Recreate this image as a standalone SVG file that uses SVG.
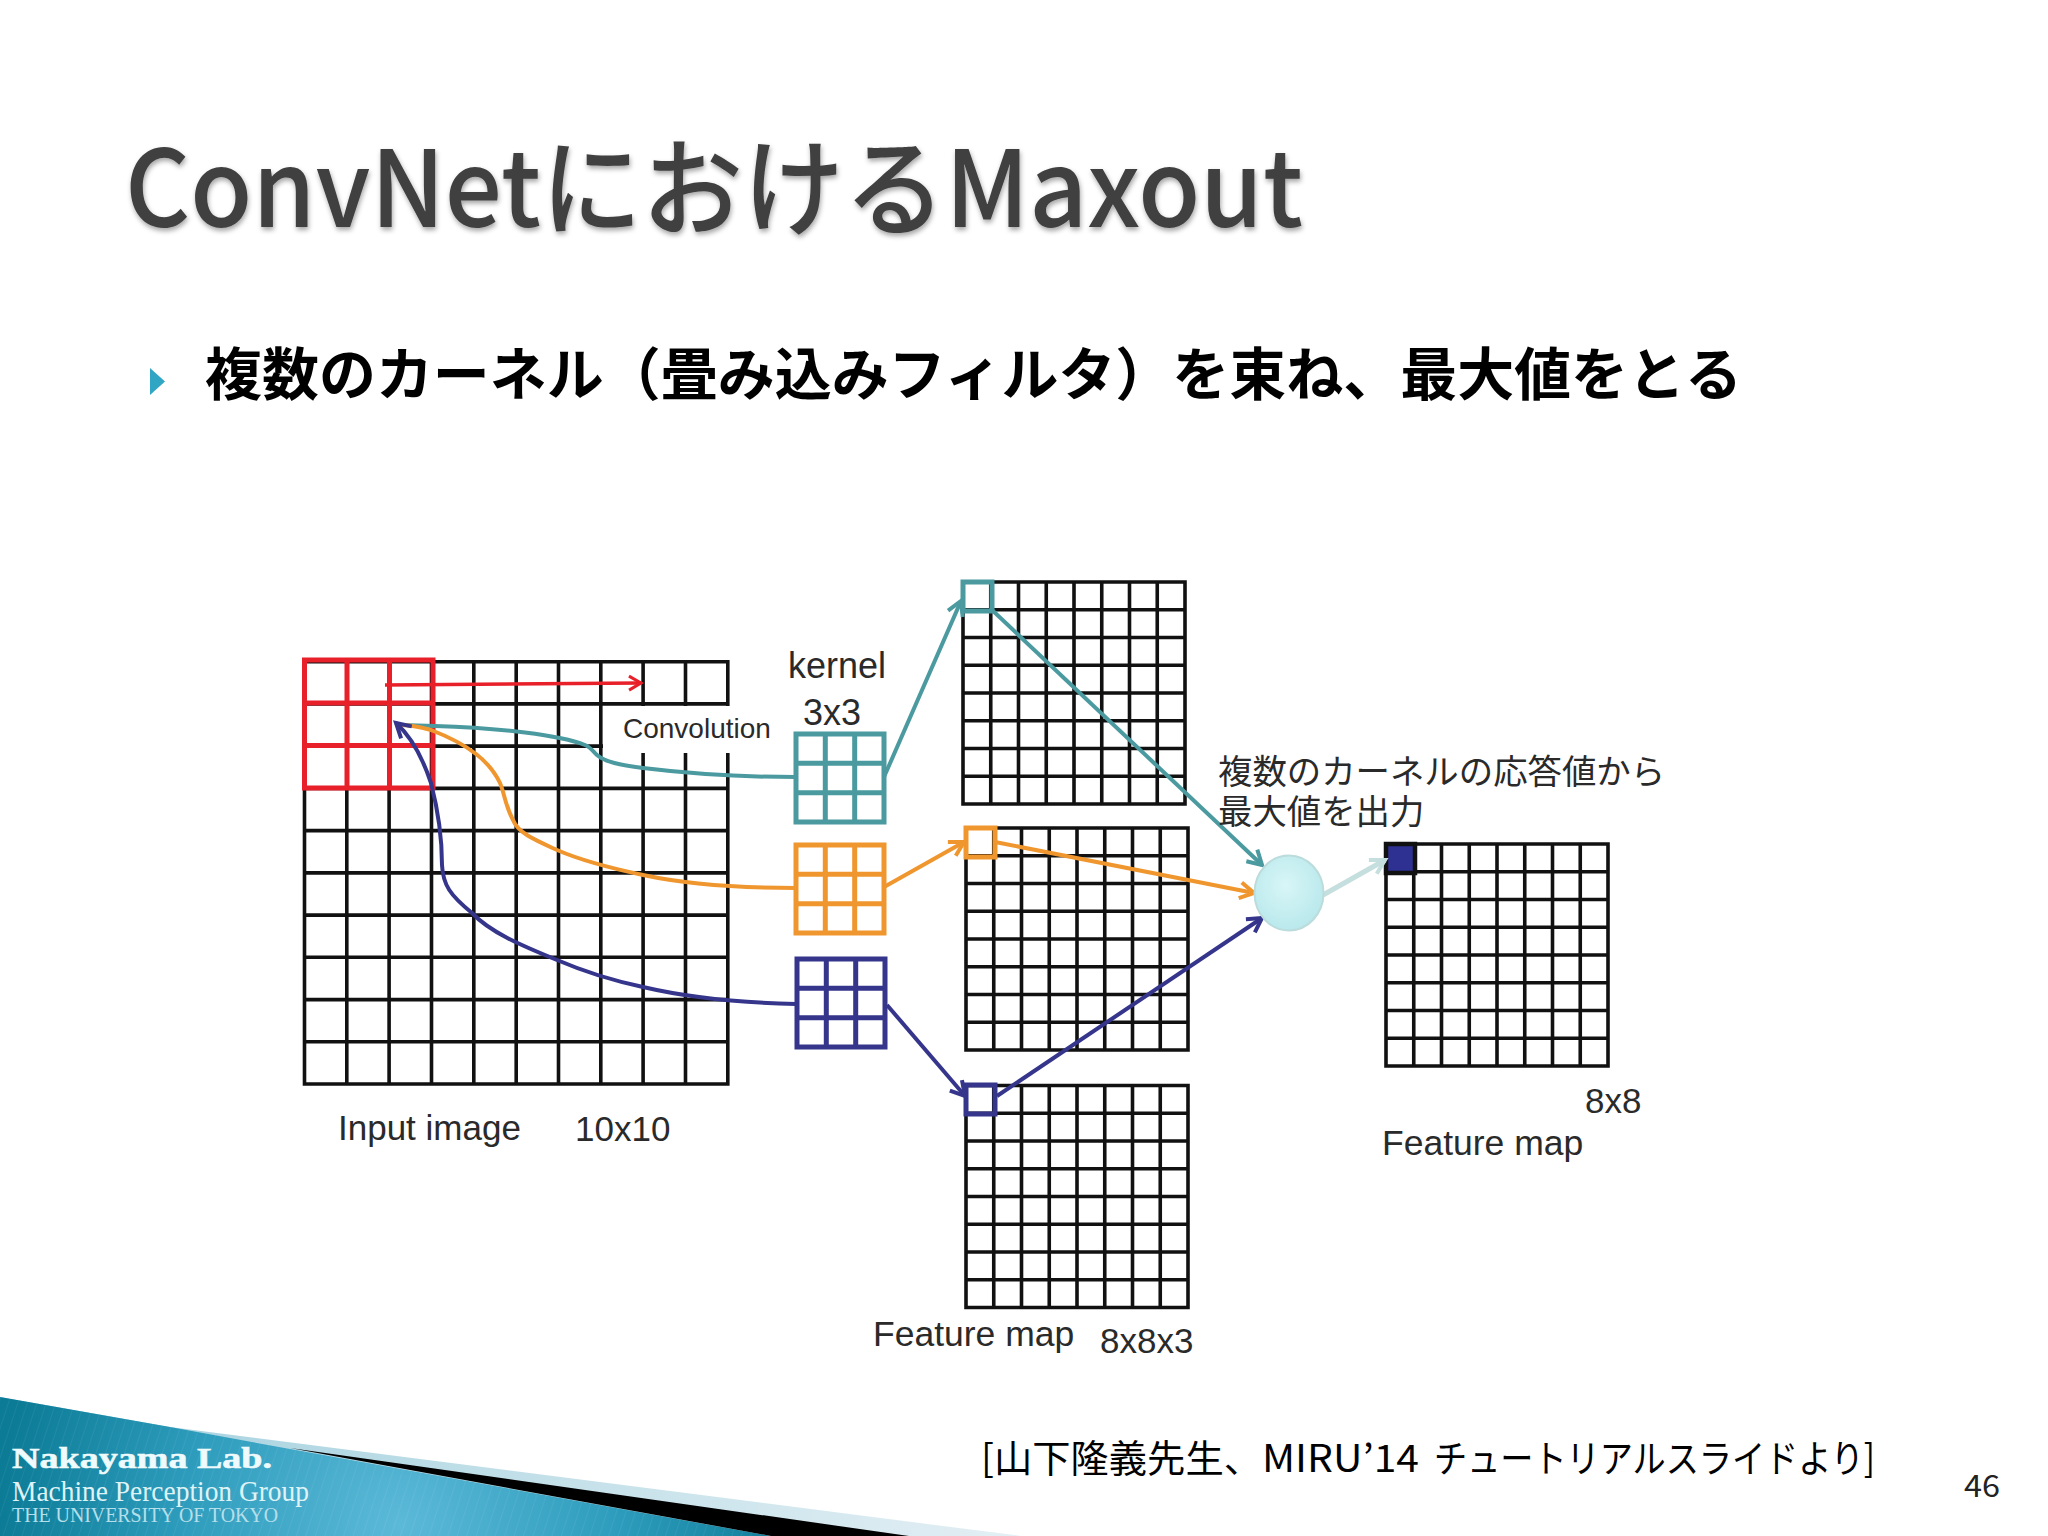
<svg xmlns="http://www.w3.org/2000/svg" width="2048" height="1536" viewBox="0 0 2048 1536">
<style>
.cjk{font-family:"Noto Sans CJK JP","Liberation Sans",sans-serif}
.lat{font-family:"Liberation Sans","Noto Sans CJK JP",sans-serif;fill:#2a2a2a}
.ser{font-family:"Liberation Serif",serif}
.grid{fill:none;stroke:#111;stroke-width:3.6}
.k{fill:none;stroke-width:5}
.conn path{fill:none;stroke-width:4}
</style>
<defs>
<filter id="ts" x="-5%" y="-10%" width="110%" height="130%"><feDropShadow dx="1" dy="3" stdDeviation="2.5" flood-color="#000" flood-opacity="0.35"/></filter>
<linearGradient id="band" x1="0" y1="0" x2="1" y2="0"><stop offset="0" stop-color="#9fcfdd"/><stop offset="1" stop-color="#e3eff4"/></linearGradient>
<radialGradient id="teal" gradientUnits="userSpaceOnUse" cx="400" cy="1525" r="400"><stop offset="0" stop-color="#5cb9d8"/><stop offset="0.55" stop-color="#2d9cbc"/><stop offset="1" stop-color="#0c7b96"/></radialGradient>
<radialGradient id="node" cx="0.45" cy="0.4" r="0.7"><stop offset="0" stop-color="#d8f6f7"/><stop offset="1" stop-color="#b4e6ea"/></radialGradient>
<pattern id="stripes" width="9" height="9" patternUnits="userSpaceOnUse" patternTransform="rotate(18)"><path d="M0,0V9" stroke="#fff" stroke-opacity="0.08" stroke-width="1.5"/></pattern>
<marker id="mT" markerUnits="userSpaceOnUse" markerWidth="24" markerHeight="24" refX="18" refY="12" orient="auto"><path d="M4,4L18,12L4,20" fill="none" stroke="#4a9aa0" stroke-width="4"/></marker>
<marker id="mO" markerUnits="userSpaceOnUse" markerWidth="24" markerHeight="24" refX="18" refY="12" orient="auto"><path d="M4,4L18,12L4,20" fill="none" stroke="#f0962e" stroke-width="4"/></marker>
<marker id="mB" markerUnits="userSpaceOnUse" markerWidth="24" markerHeight="24" refX="18" refY="12" orient="auto"><path d="M4,4L18,12L4,20" fill="none" stroke="#35358c" stroke-width="4"/></marker>
<marker id="mR" markerUnits="userSpaceOnUse" markerWidth="24" markerHeight="24" refX="18" refY="12" orient="auto"><path d="M6,5L18,12L6,19" fill="none" stroke="#e8202a" stroke-width="3"/></marker>
<marker id="mL" markerUnits="userSpaceOnUse" markerWidth="24" markerHeight="24" refX="18" refY="12" orient="auto"><path d="M4,4L18,12L4,20" fill="none" stroke="#c5dede" stroke-width="4"/></marker>
<path id="grid8" class="grid" d="M0,0H222V222H0Z M27.75,0V222 M55.5,0V222 M83.25,0V222 M111,0V222 M138.75,0V222 M166.5,0V222 M194.25,0V222 M0,27.75H222 M0,55.5H222 M0,83.25H222 M0,111H222 M0,138.75H222 M0,166.5H222 M0,194.25H222"/>
<path id="grid3" d="M0,0H88V88H0Z M29.3,0V88 M58.7,0V88 M0,29.3H88 M0,58.7H88"/>
</defs>
<rect width="2048" height="1536" fill="#fff"/>

<g id="footer-band">
<path d="M0,1397L170,1427L1021,1536H0Z" fill="url(#band)"/>
<path d="M0,1397L170,1427L290,1449L771,1536H0Z" fill="url(#teal)"/>
<path d="M0,1397L170,1427L290,1449L771,1536H0Z" fill="url(#stripes)"/>
<path d="M290,1448L909,1536H771Z" fill="#000"/>
<text class="ser" x="12" y="1468" font-size="30" font-weight="700" fill="#eefafc" stroke="#eefafc" stroke-width="0.6" textLength="260" lengthAdjust="spacingAndGlyphs">Nakayama Lab.</text>
<text class="ser" x="12" y="1501" font-size="29" fill="#dff3f7" textLength="297" lengthAdjust="spacingAndGlyphs">Machine Perception Group</text>
<text class="ser" x="12" y="1522" font-size="20" fill="#b5dfea" textLength="266" lengthAdjust="spacingAndGlyphs">THE UNIVERSITY OF TOKYO</text>
</g>

<text id="title" class="cjk" x="125" y="227" font-size="106" font-weight="500" fill="#404040" filter="url(#ts)" textLength="1178" lengthAdjust="spacingAndGlyphs">ConvNetにおけるMaxout</text>
<path id="bullet" d="M150,368L165,381.5L150,395Z" fill="#31a5c4"/>
<text id="bullet-text" class="cjk" x="205" y="395" font-size="57" font-weight="700" fill="#000" textLength="1537" lengthAdjust="spacingAndGlyphs">複数のカーネル（畳み込みフィルタ）を束ね、最大値をとる</text>

<g id="input-image">
<path class="grid" d="M304.5,661.7H727.8V1084H304.5Z M346.8,661.7V1084 M389.1,661.7V1084 M431.5,661.7V1084 M473.8,661.7V1084 M516.2,661.7V1084 M558.5,661.7V1084 M600.8,661.7V1084 M643.1,661.7V1084 M685.5,661.7V1084 M304.5,703.9H727.8 M304.5,746.1H727.8 M304.5,788.4H727.8 M304.5,830.6H727.8 M304.5,872.9H727.8 M304.5,915.1H727.8 M304.5,957.3H727.8 M304.5,999.6H727.8 M304.5,1041.8H727.8"/>
<rect x="603" y="706" width="130" height="47" fill="#fff"/>
</g>
<g id="red-kernel" fill="none" stroke="#e8202a" stroke-width="5">
<path d="M304.5,660H433V788H304.5Z M347,660V788 M389.5,660V788 M304.5,703H433 M304.5,745.5H433"/>
</g>
<g id="kernel-teal" class="k" stroke="#4a9aa0"><use href="#grid3" x="796" y="734"/></g>
<g id="kernel-orange" class="k" stroke="#f0962e"><use href="#grid3" x="796" y="845"/></g>
<g id="kernel-blue" class="k" stroke="#35358c"><use href="#grid3" x="797" y="959"/></g>

<g id="feature-map-1"><use href="#grid8" x="963" y="582"/></g>
<g id="feature-map-2"><use href="#grid8" x="966" y="828"/></g>
<g id="feature-map-3"><use href="#grid8" x="966" y="1085.5"/></g>
<g id="output-map"><use href="#grid8" x="1386" y="844"/><rect x="1386" y="844" width="29" height="29" fill="#2e3192" stroke="#111" stroke-width="4.5"/></g>

<rect id="cell-teal" x="963" y="582" width="29" height="29" fill="none" stroke="#4a9aa0" stroke-width="5"/>
<rect id="cell-orange" x="966" y="828" width="29" height="29" fill="none" stroke="#f0962e" stroke-width="5"/>
<rect id="cell-blue" x="966" y="1085" width="29" height="29" fill="none" stroke="#35358c" stroke-width="5"/>

<g id="connectors" class="conn">
<path style="stroke:#e8202a;stroke-width:3.5" marker-end="url(#mR)" d="M385,685L641,683"/>
<path stroke="#4a9aa0" d="M796,777C760,777 700,775 643,768C620,765 605,762 597,755C592,750 590,747 585,745C560,735 500,728 435,726L402,725"/>
<path stroke="#f0962e" d="M796,888C750,888 690,885 643,875C610,868 580,860 557,850C535,840 518,833 513,820C505,805 505,795 500,783C490,762 470,745 431,730C420,727 410,725 400,725"/>
<path stroke="#35358c" marker-end="url(#mB)" d="M796,1004C750,1003 690,998 643,987C610,980 585,972 557,960C520,945 490,932 472,913C450,895 443,885 442,865C442,840 438,810 431,783C425,765 415,740 396,723"/>
<path stroke="#4a9aa0" marker-end="url(#mT)" d="M884,777L961,601"/>
<path stroke="#4a9aa0" marker-end="url(#mT)" d="M992,610L1262,865"/>
<path stroke="#f0962e" marker-end="url(#mO)" d="M884,887L964,842"/>
<path stroke="#f0962e" marker-end="url(#mO)" d="M995,842L1254,893"/>
<path stroke="#35358c" marker-end="url(#mB)" d="M887,1005L965,1096"/>
<path stroke="#35358c" marker-end="url(#mB)" d="M997,1096L1262,918"/>
<path style="stroke:#c5dede;stroke-width:5" marker-end="url(#mL)" d="M1323,895L1385,860"/>
</g>

<ellipse id="max-node" cx="1289" cy="893" rx="34.5" ry="37.5" fill="url(#node)" stroke="#bcdcdc" stroke-width="2"/>

<g id="labels">
<text class="lat" x="788" y="678" font-size="36">kernel</text>
<text class="lat" x="803" y="725" font-size="36">3x3</text>
<text class="lat" x="623" y="738" font-size="28">Convolution</text>
<text class="lat" x="338" y="1140" font-size="35">Input image</text>
<text class="lat" x="575" y="1141" font-size="35">10x10</text>
<text class="lat" x="1585" y="1113" font-size="35">8x8</text>
<text class="lat" x="1382" y="1155" font-size="35.5">Feature map</text>
<text class="lat" x="873" y="1346" font-size="35.5">Feature map</text>
<text class="lat" x="1100" y="1353" font-size="35">8x8x3</text>
<text class="cjk" x="1218" y="784" font-size="34.4" fill="#2a2a2a">複数のカーネルの応答値から</text>
<text class="cjk" x="1218" y="824" font-size="34.4" fill="#2a2a2a">最大値を出力</text>
</g>

<text id="citation" class="cjk" y="1472" font-size="38" fill="#000"><tspan x="981" textLength="281" lengthAdjust="spacingAndGlyphs">[山下隆義先生、</tspan><tspan x="1262" textLength="157" lengthAdjust="spacingAndGlyphs">MIRU’14</tspan><tspan x="1434" textLength="441" lengthAdjust="spacingAndGlyphs">チュートリアルスライドより]</tspan></text>
<text id="page" class="cjk" x="1964" y="1497" font-size="30" fill="#222" textLength="36" lengthAdjust="spacingAndGlyphs">46</text>
</svg>
